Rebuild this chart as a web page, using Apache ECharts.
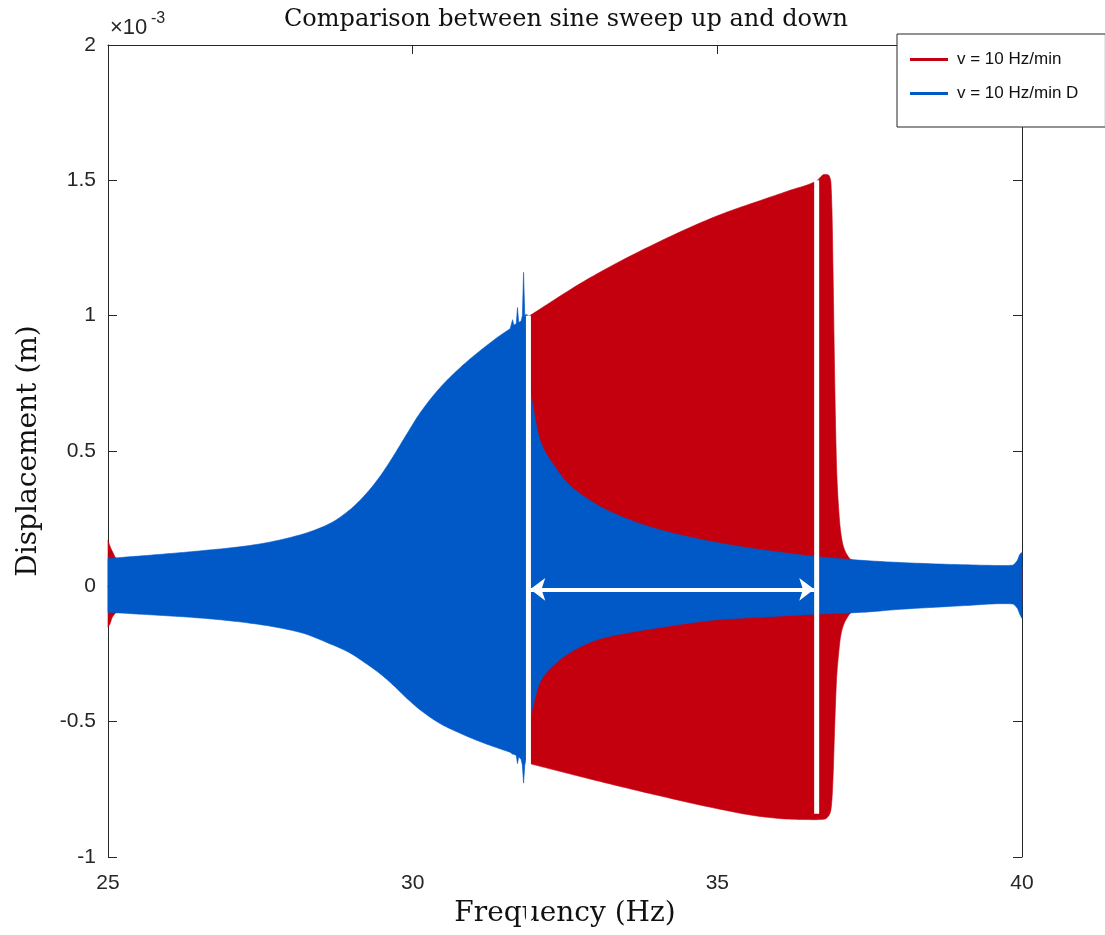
<!DOCTYPE html>
<html>
<head>
<meta charset="utf-8">
<script src="https://cdn.jsdelivr.net/npm/echarts@6/dist/echarts.min.js"></script>
<style>
html,body{margin:0;padding:0;background:#fff;}
#chart{width:1105px;height:935px;}
</style>
</head>
<body>
<div id="chart"></div>
<script>
// ---- Data (displacement in units of 1e-3 m) ----
const seriesNames = ['v = 10 Hz/min', 'v = 10 Hz/min D'];
const xTicks = [25, 30, 35, 40];
const yTicks = [-1, -0.5, 0, 0.5, 1, 1.5, 2];

// Sweep up (red): envelope of the oscillation
const redFreq  = [25.00, 25.03, 25.07, 25.15, 25.30, 26.50, 28.00, 29.00, 30.00, 31.00, 31.70, 31.88, 31.92, 32.88, 33.98, 35.08, 35.70, 36.18, 36.62, 36.76, 36.82, 36.86, 36.88, 36.90, 36.92, 36.94, 36.96, 36.99, 37.02, 37.06, 37.12, 37.20, 37.35, 38.00, 39.00, 40.00];
const redUpper = [0.170, 0.150, 0.130, 0.100, 0.098, 0.115, 0.165, 0.260, 0.550, 0.800, 0.940, 0.970, 1.000, 1.136, 1.266, 1.376, 1.425, 1.462, 1.497, 1.522, 1.520, 1.500, 1.400, 1.150, 0.850, 0.600, 0.420, 0.290, 0.210, 0.155, 0.120, 0.098, 0.090, 0.080, 0.070, 0.065];
const redLower = [-0.151, -0.140, -0.115, -0.095, -0.090, -0.105, -0.148, -0.225, -0.380, -0.530, -0.600, -0.625, -0.655, -0.710, -0.770, -0.825, -0.850, -0.860, -0.862, -0.860, -0.850, -0.830, -0.790, -0.700, -0.560, -0.430, -0.330, -0.250, -0.190, -0.150, -0.120, -0.097, -0.090, -0.075, -0.062, -0.055];

// Sweep down (blue): envelope of the oscillation
const blueFreq  = [25.00, 25.69, 26.51, 27.33, 28.15, 28.64, 28.97, 29.22, 29.46, 29.68, 29.91, 30.12, 30.45, 30.78, 31.11, 31.43, 31.60, 31.64, 31.66, 31.70, 31.72, 31.74, 31.78, 31.80, 31.82, 31.84, 31.86, 31.90, 31.93, 32.09, 32.32, 32.58, 32.88, 33.14, 33.98, 35.08, 35.70, 36.62, 37.37, 38.00, 39.00, 39.70, 39.84, 39.92, 39.97, 40.00];
const blueUpper = [0.103, 0.115, 0.131, 0.151, 0.190, 0.232, 0.283, 0.338, 0.405, 0.480, 0.565, 0.640, 0.734, 0.808, 0.871, 0.926, 0.952, 0.985, 0.965, 0.970, 1.030, 0.975, 0.980, 1.000, 1.160, 1.000, 1.005, 1.000, 0.720, 0.540, 0.446, 0.373, 0.322, 0.287, 0.214, 0.158, 0.136, 0.110, 0.096, 0.088, 0.080, 0.077, 0.078, 0.095, 0.120, 0.125];
const blueLower = [-0.096, -0.105, -0.117, -0.136, -0.170, -0.212, -0.246, -0.283, -0.322, -0.365, -0.415, -0.456, -0.507, -0.543, -0.574, -0.600, -0.613, -0.620, -0.620, -0.625, -0.655, -0.630, -0.640, -0.660, -0.727, -0.660, -0.640, -0.640, -0.483, -0.354, -0.290, -0.245, -0.210, -0.190, -0.155, -0.122, -0.114, -0.103, -0.096, -0.085, -0.072, -0.064, -0.065, -0.080, -0.106, -0.118];

// Annotations (white markers)
const jumpDownFreq = 31.90;
const jumpUpFreq = 36.63;
const jumpDownSpan = [1.0, -1.27];
const jumpUpSpan = [1.5, -0.84];
const arrowFreqs = [31.93, 36.59];
const arrowLevel = -0.011;

const RED = '#C4000F';
const BLUE = '#0059C7';
const AX = '#262626';

// monotone cubic (Fritsch-Carlson) smoothing of a pixel-space chain, for drawing only
function smoothChain(p) {
  const n = p.length;
  if (n < 3) return p.slice();
  const h = [], d = [], m = new Array(n);
  for (let i = 0; i < n - 1; i++) {
    h[i] = p[i + 1][0] - p[i][0];
    d[i] = h[i] === 0 ? 0 : (p[i + 1][1] - p[i][1]) / h[i];
  }
  m[0] = d[0]; m[n - 1] = d[n - 2];
  for (let i = 1; i < n - 1; i++) {
    if (d[i - 1] * d[i] <= 0) m[i] = 0;
    else {
      const w1 = 2 * h[i] + h[i - 1], w2 = h[i] + 2 * h[i - 1];
      m[i] = (w1 + w2) / (w1 / d[i - 1] + w2 / d[i]);
    }
  }
  const out = [];
  const S = 12;
  for (let i = 0; i < n - 1; i++) {
    const x0 = p[i][0], y0 = p[i][1], y1 = p[i + 1][1], hh = h[i];
    for (let k = 0; k < S; k++) {
      const t = k / S, t2 = t * t, t3 = t2 * t;
      const h00 = 2 * t3 - 3 * t2 + 1, h10 = t3 - 2 * t2 + t, h01 = -2 * t3 + 3 * t2, h11 = t3 - t2;
      out.push([x0 + t * hh, h00 * y0 + h10 * hh * m[i] + h01 * y1 + h11 * hh * m[i + 1]]);
    }
  }
  out.push(p[n - 1]);
  return out;
}

// smooth piecewise, keeping the index range [a, b] as straight segments
function piecewise(p, a, b) {
  const first = smoothChain(p.slice(0, a + 1));
  const mid = p.slice(a + 1, b);
  const last = smoothChain(p.slice(b));
  return first.concat(mid, last);
}

function band(xs, up, lo, a, b) {
  return function (params, api) {
    const u = [], l = [];
    for (let i = 0; i < xs.length; i++) {
      u.push(api.coord([xs[i], up[i]]));
      l.push(api.coord([xs[i], lo[i]]));
    }
    const pts = piecewise(u, a, b).concat(piecewise(l, a, b).reverse());
    return {
      type: 'polygon',
      shape: { points: pts },
      style: { fill: api.visual('color'), stroke: api.visual('color'), lineWidth: 0.6 }
    };
  };
}

const chart = echarts.init(document.getElementById('chart'), null, { renderer: 'canvas' });
const tickFont = { fontFamily: 'Liberation Sans, Arial, sans-serif', fontSize: 21, color: AX };

const option = {
  backgroundColor: '#fff',
  animation: false,
  title: {
    text: 'Comparison between sine sweep up and down',
    left: 566, top: 8, textAlign: 'center', padding: 0,
    textStyle: { fontFamily: 'DejaVu Serif, serif', fontSize: 24, fontWeight: 'normal', color: '#111' }
  },
  legend: {
    data: seriesNames,
    orient: 'vertical',
    left: 897, top: 34,
    padding: [17, 27, 25, 13],
    itemGap: 17,
    itemWidth: 38, itemHeight: 3,
    icon: 'rect',
    backgroundColor: '#fff',
    borderColor: AX, borderWidth: 1,
    textStyle: { fontFamily: 'Liberation Sans, Arial, sans-serif', fontSize: 17, color: '#111', padding: [0, 0, 0, 4], lineHeight: 17 },
    z: 20
  },
  graphic: [{
    type: 'text', left: 110, top: 17, z: 10,
    style: { text: '×10', fontSize: 22, fontFamily: 'Liberation Sans, Arial, sans-serif', fill: AX }
  }, {
    type: 'text', left: 151, top: 11, z: 10,
    style: { text: '-3', fontSize: 16, fontFamily: 'Liberation Sans, Arial, sans-serif', fill: AX }
  }],
  grid: { left: 108, right: 83, top: 45, bottom: 78, containLabel: false },
  xAxis: [{
    type: 'value', min: 25, max: 40, interval: 5,
    name: 'Frequency (Hz)', nameLocation: 'middle', nameGap: 43,
    nameTextStyle: { fontFamily: 'DejaVu Serif, serif', fontSize: 28, color: '#111' },
    axisLine: { show: true, lineStyle: { color: AX, width: 1 } },
    axisTick: { show: true, inside: true, length: 9, lineStyle: { color: AX } },
    axisLabel: Object.assign({ margin: 16 }, tickFont),
    splitLine: { show: false }
  }, {
    type: 'value', min: 25, max: 40, interval: 5, position: 'top',
    axisLine: { show: true, onZero: false, lineStyle: { color: AX, width: 1 } },
    axisTick: { show: true, inside: true, length: 9, lineStyle: { color: AX } },
    axisLabel: { show: false }, splitLine: { show: false }
  }],
  yAxis: [{
    type: 'value', min: -1, max: 2, interval: 0.5,
    name: 'Displacement (m)', nameLocation: 'middle', nameGap: 65, nameRotate: 90,
    nameTextStyle: { fontFamily: 'DejaVu Serif, serif', fontSize: 28, color: '#111' },
    axisLine: { show: true, onZero: false, lineStyle: { color: AX, width: 1 } },
    axisTick: { show: true, inside: true, length: 9, lineStyle: { color: AX } },
    axisLabel: Object.assign({ margin: 12 }, tickFont),
    splitLine: { show: false }
  }, {
    type: 'value', min: -1, max: 2, interval: 0.5, position: 'right',
    axisLine: { show: true, onZero: false, lineStyle: { color: AX, width: 1 } },
    axisTick: { show: true, inside: true, length: 9, lineStyle: { color: AX } },
    axisLabel: { show: false }, splitLine: { show: false }
  }],
  series: [{
    name: seriesNames[0], type: 'custom', xAxisIndex: 0, yAxisIndex: 0,
    itemStyle: { color: RED },
    data: [[redFreq[0], redUpper[0]]],
    renderItem: band(redFreq, redUpper, redLower, 11, 12),
    z: 2
  }, {
    name: seriesNames[1], type: 'custom', xAxisIndex: 0, yAxisIndex: 0,
    itemStyle: { color: BLUE },
    data: [[blueFreq[0], blueUpper[0]]],
    renderItem: band(blueFreq, blueUpper, blueLower, 16, 28),
    z: 3
  }, {
    name: 'jumpDown', type: 'line', clip: false, silent: true,
    symbol: 'none', z: 30,
    lineStyle: { color: '#fff', width: 5 },
    data: jumpDownSpan.map(v => [jumpDownFreq, v])
  }, {
    name: 'jumpUp', type: 'line', clip: false, silent: true,
    symbol: 'none', z: 30,
    lineStyle: { color: '#fff', width: 5 },
    data: jumpUpSpan.map(v => [jumpUpFreq, v]),
    markLine: {
      silent: true, symbol: ['arrow', 'arrow'], symbolSize: [17, 15],
      label: { show: false },
      lineStyle: { color: '#fff', width: 4, type: 'solid' },
      data: [[{ coord: [arrowFreqs[0], arrowLevel] }, { coord: [arrowFreqs[1], arrowLevel] }]]
    }
  }]
};
chart.setOption(option);
</script>
</body>
</html>
